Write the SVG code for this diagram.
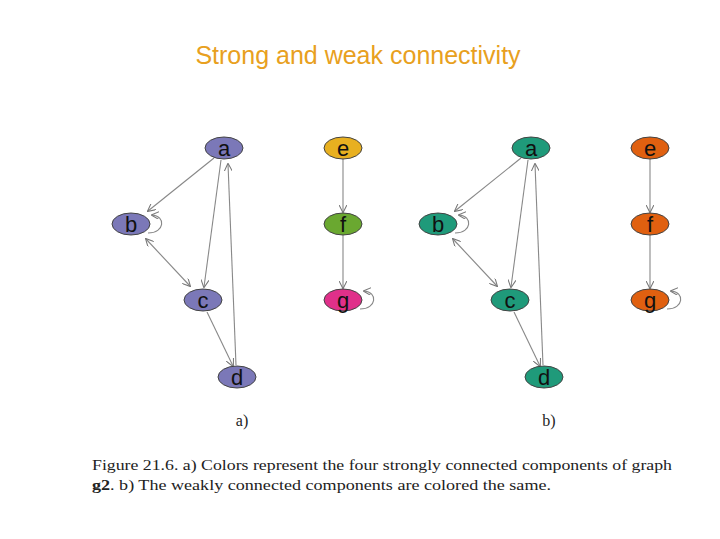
<svg xmlns="http://www.w3.org/2000/svg" width="720" height="539" viewBox="0 0 720 539">
<style>
.n{stroke:#444;stroke-width:1}
.l{font-family:"Liberation Sans",Arial,sans-serif;font-size:22px;fill:#111;text-anchor:middle}
.e{stroke:#888;stroke-width:1.1;fill:none;marker-end:url(#ar)}
.s{font-family:"Liberation Serif","DejaVu Serif",serif;fill:#222}
</style>
<defs>
<marker id="ar" viewBox="0 0 10 10" refX="9" refY="5" markerWidth="8" markerHeight="8" orient="auto-start-reverse" markerUnits="userSpaceOnUse"><path d="M0,0L10,5L0,10" fill="none" stroke="#777" stroke-width="1.3"/></marker>
</defs>
<rect width="720" height="539" fill="#fff"/>
<text x="358" y="64" text-anchor="middle" font-family="Liberation Sans,Arial,sans-serif" font-size="25" fill="#e8a020">Strong and weak connectivity</text>
<g id="connectors">
<g id="edges-a">
<line class="e" x1="214" y1="158" x2="148" y2="211"/>
<line class="e" x1="221" y1="160" x2="204" y2="287"/>
<line class="e" x1="236" y1="365" x2="228" y2="164"/>
<line class="e" x1="207" y1="312" x2="233" y2="366"/>
<line class="e" x1="146" y1="239" x2="190" y2="286" style="marker-start:url(#ar)"/>
<path class="e" d="M148,233 C165,233 166,216 152,215"/>
<line class="e" x1="343" y1="159" x2="343" y2="212"/>
<line class="e" x1="343" y1="235" x2="343" y2="288"/>
<path class="e" d="M360,309 C377,309 378,292 364,291"/>
</g>
<g id="edges-b" transform="translate(307,0)">
<line class="e" x1="214" y1="158" x2="148" y2="211"/>
<line class="e" x1="221" y1="160" x2="204" y2="287"/>
<line class="e" x1="236" y1="365" x2="228" y2="164"/>
<line class="e" x1="207" y1="312" x2="233" y2="366"/>
<line class="e" x1="146" y1="239" x2="190" y2="286" style="marker-start:url(#ar)"/>
<path class="e" d="M148,233 C165,233 166,216 152,215"/>
<line class="e" x1="343" y1="159" x2="343" y2="212"/>
<line class="e" x1="343" y1="235" x2="343" y2="288"/>
<path class="e" d="M360,309 C377,309 378,292 364,291"/>
</g>
</g>
<g id="a1"><ellipse class="n" cx="224" cy="148" rx="19" ry="11" fill="#7b78b8"/><text class="l" x="224" y="156">a</text></g>
<g id="b1"><ellipse class="n" cx="131" cy="224" rx="19" ry="11" fill="#7b78b8"/><text class="l" x="131" y="232">b</text></g>
<g id="c1"><ellipse class="n" cx="203" cy="300" rx="19" ry="11" fill="#7b78b8"/><text class="l" x="203" y="308">c</text></g>
<g id="d1"><ellipse class="n" cx="237" cy="377" rx="19" ry="11" fill="#7b78b8"/><text class="l" x="237" y="385">d</text></g>
<g id="e1"><ellipse class="n" cx="343" cy="148" rx="19" ry="11" fill="#e8b020"/><text class="l" x="343" y="156">e</text></g>
<g id="f1"><ellipse class="n" cx="343" cy="224" rx="19" ry="11" fill="#6aa830"/><text class="l" x="343" y="232">f</text></g>
<g id="g1"><ellipse class="n" cx="343" cy="300" rx="19" ry="11" fill="#e0308a"/><text class="l" x="343" y="308">g</text></g>
<g id="a2"><ellipse class="n" cx="531" cy="148" rx="19" ry="11" fill="#1f9a7a"/><text class="l" x="531" y="156">a</text></g>
<g id="b2"><ellipse class="n" cx="438" cy="224" rx="19" ry="11" fill="#1f9a7a"/><text class="l" x="438" y="232">b</text></g>
<g id="c2"><ellipse class="n" cx="510" cy="300" rx="19" ry="11" fill="#1f9a7a"/><text class="l" x="510" y="308">c</text></g>
<g id="d2"><ellipse class="n" cx="544" cy="377" rx="19" ry="11" fill="#1f9a7a"/><text class="l" x="544" y="385">d</text></g>
<g id="e2"><ellipse class="n" cx="650" cy="148" rx="19" ry="11" fill="#e06010"/><text class="l" x="650" y="156">e</text></g>
<g id="f2"><ellipse class="n" cx="650" cy="224" rx="19" ry="11" fill="#e06010"/><text class="l" x="650" y="232">f</text></g>
<g id="g2"><ellipse class="n" cx="650" cy="300" rx="19" ry="11" fill="#e06010"/><text class="l" x="650" y="308">g</text></g>
<text class="s" x="242" y="426" font-size="16" text-anchor="middle">a)</text>
<text class="s" x="549" y="426" font-size="16" text-anchor="middle">b)</text>
<text class="s" x="92" y="470" font-size="15" textLength="580" lengthAdjust="spacingAndGlyphs">Figure 21.6. a) Colors represent the four strongly connected components of graph</text>
<text class="s" x="92" y="490" font-size="15" textLength="459" lengthAdjust="spacingAndGlyphs"><tspan font-weight="bold">g2</tspan>. b) The weakly connected components are colored the same.</text>
</svg>
